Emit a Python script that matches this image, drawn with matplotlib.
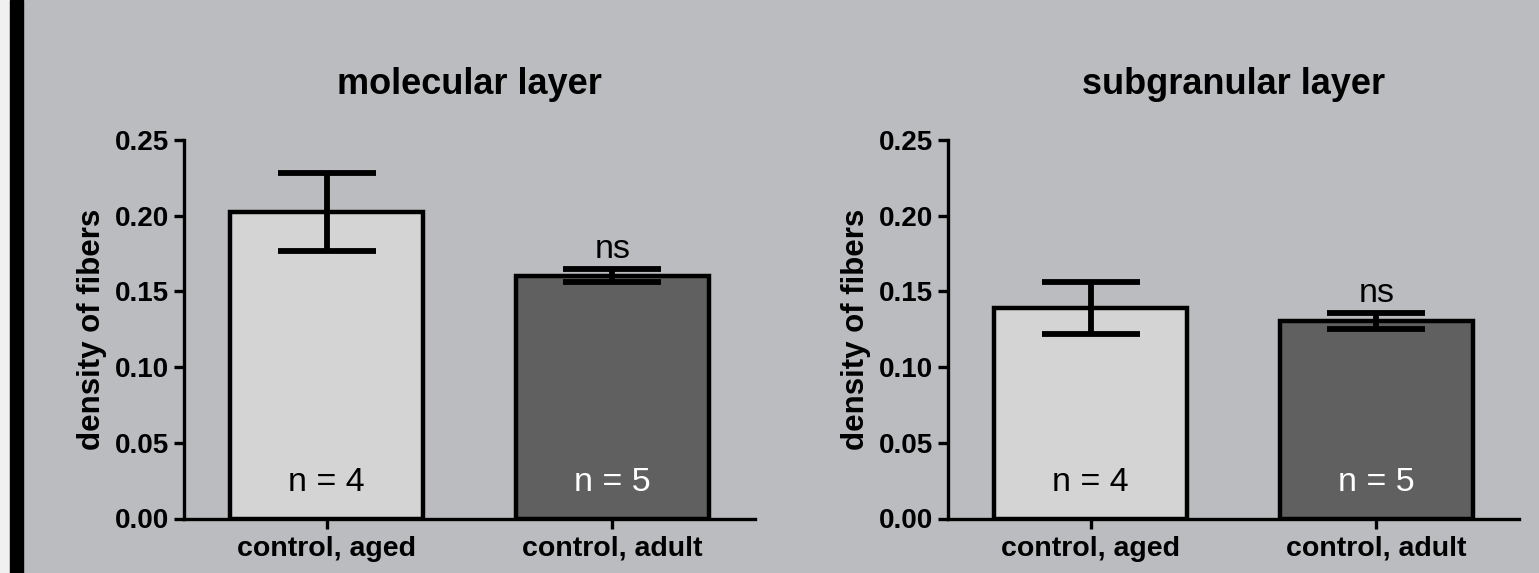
import matplotlib.pyplot as plt
from matplotlib.patches import Rectangle

# values (mean, SEM)
groups = ['control, aged', 'control, adult']
panel_titles = ['molecular layer', 'subgranular layer']
means = [[0.2025, 0.1605], [0.1390, 0.1302]]
sems = [[0.0260, 0.0041], [0.0169, 0.0053]]
n_labels = ['n = 4', 'n = 5']
sig_labels = ['ns', 'ns']
yticks = [0.00, 0.05, 0.10, 0.15, 0.20, 0.25]

bg = '#bbbcbf'
bar_colors = ['#d4d4d4', '#606060']
n_colors = ['black', 'white']

plt.rcParams['font.family'] = ['Liberation Sans', 'DejaVu Sans']

fig = plt.figure(figsize=(15.39, 5.73), dpi=100, facecolor=bg)

# the light/black strip at the far left edge
fig.patches.append(Rectangle((0, 0), 10 / 1539, 1, transform=fig.transFigure,
                             color='#f0f0f0', zorder=0))
fig.patches.append(Rectangle((10 / 1539, 0), 13 / 1539, 1, transform=fig.transFigure,
                             color='black', zorder=0))

H = 573
W = 1539
ax_bottom = 1 - 518.5 / H
ax_height = (518.5 - 140) / H
lefts = [184 / W, 948 / W]
width = 571 / W

for i in range(2):
    ax = fig.add_axes([lefts[i], ax_bottom, width, ax_height])
    ax.set_facecolor('none')
    x = [0, 1]
    ax.bar(x, means[i], width=0.675, color=bar_colors, edgecolor='black',
           linewidth=3.2, zorder=2)
    ax.errorbar(x, means[i], yerr=sems[i], fmt='none', ecolor='black',
                elinewidth=4.2, capsize=35, capthick=4.2, zorder=3)
    for j in range(2):
        ax.text(x[j], 0.024, n_labels[j], ha='center', va='center',
                fontsize=24.5, color=n_colors[j], zorder=4)
    ax.text(x[1], means[i][1] + sems[i][1] + 0.0075, sig_labels[i],
            ha='center', va='baseline', fontsize=24.5, color='black')

    ax.set_xlim(-0.5, 1.5)
    ax.set_ylim(0, 0.25)
    ax.set_yticks(yticks)
    ax.set_yticklabels([f'{v:.2f}' for v in yticks])
    ax.set_xticks(x)
    ax.set_xticklabels(groups)
    ax.spines['top'].set_visible(False)
    ax.spines['right'].set_visible(False)
    for s in ['left', 'bottom']:
        ax.spines[s].set_linewidth(2.4)
    ax.tick_params(axis='y', length=7.5, width=2.4, pad=3, labelsize=20)
    ax.tick_params(axis='x', length=7.5, width=2.4, pad=5, labelsize=20.5)
    for lab in ax.get_yticklabels() + ax.get_xticklabels():
        lab.set_fontweight('bold')
    ax.set_ylabel('density of fibers', fontsize=22.5, fontweight='bold', labelpad=6)
    ax.set_title(panel_titles[i], fontsize=26, fontweight='bold', pad=33)

fig.savefig('out.png', dpi=100, facecolor=bg)
